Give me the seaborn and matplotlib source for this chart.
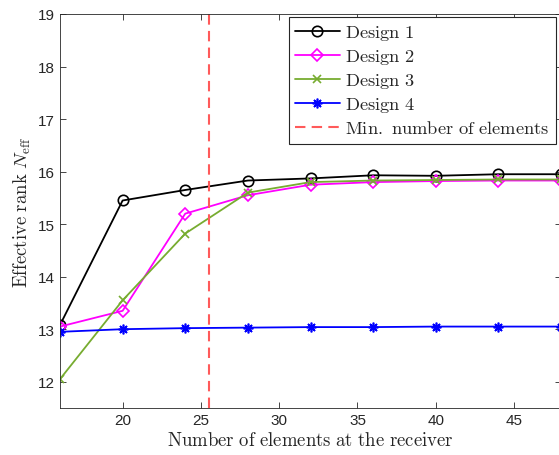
import numpy as np
import pandas as pd
import matplotlib
matplotlib.use("Agg")
import matplotlib.pyplot as plt
import seaborn as sns

# Data
n_elements = [16, 20, 24, 28, 32, 36, 40, 44, 48]
design1 = [13.08, 15.45, 15.65, 15.83, 15.87, 15.93, 15.92, 15.95, 15.95]
design2 = [13.05, 13.35, 15.20, 15.55, 15.75, 15.80, 15.82, 15.83, 15.83]
design3 = [12.05, 13.55, 14.82, 15.60, 15.80, 15.83, 15.84, 15.85, 15.85]
design4 = [12.95, 13.00, 13.02, 13.03, 13.04, 13.04, 13.05, 13.05, 13.05]
min_elements = 25.5
x_ticks = [20, 25, 30, 35, 40, 45]
y_ticks = [12, 13, 14, 15, 16, 17, 18, 19]

sns.set_style("ticks")
plt.rcParams["font.family"] = ["Liberation Sans", "DejaVu Sans"]
plt.rcParams["mathtext.fontset"] = "cm"
plt.rcParams["xtick.direction"] = "in"
plt.rcParams["ytick.direction"] = "in"

fig = plt.figure(figsize=(5.59, 4.56), dpi=100)
ax = fig.add_axes([60 / 559, 47 / 456, 501 / 559, 394 / 456])

series = [
    ("Design 1", design1, "black", "o", 7.5),
    ("Design 2", design2, "#FF00FF", "D", 6),
    ("Design 3", design3, "#77AC30", "x", 6),
    ("Design 4", design4, "#0000FF", (8, 2, 0), 7),
]
for name, vals, col, mk, ms in series:
    sns.lineplot(x=n_elements, y=vals, ax=ax, color=col, marker=mk,
                 markersize=ms, markerfacecolor="none", markeredgecolor=col,
                 markeredgewidth=1.2, linewidth=1.3, label=name)

ax.axvline(min_elements, color="#FF5A5A", linestyle=(0, (5, 3)), linewidth=1.5,
           label="Min. number of elements")

ax.set_xlim(16, 48)
ax.set_ylim(11.5, 19)
ax.set_xticks(x_ticks)
ax.set_yticks(y_ticks)
ax.tick_params(axis="both", labelsize=11, colors="#262626", length=4,
               top=True, right=True, width=0.6)
for s in ax.spines.values():
    s.set_color("#262626")
    s.set_linewidth(0.6)

ax.set_xlabel(r"$\mathrm{Number\ of\ elements\ at\ the\ receiver}$", fontsize=13.5,
              labelpad=3)
ax.set_ylabel(r"$\mathrm{Effective\ rank}\ N_{\mathrm{eff}}$", fontsize=13.5,
              labelpad=4)

leg = ax.legend(loc="upper right", bbox_to_anchor=(556 / 559, 1 - 18 / 456),
                bbox_transform=fig.transFigure, fancybox=False, framealpha=1,
                edgecolor="#262626", prop={"family": "serif", "size": 13.3},
                handlelength=2.4, borderpad=0.35, labelspacing=0.27,
                handletextpad=0.3, borderaxespad=0)
for t in leg.get_texts():
    t.set_text("$\\mathrm{" + t.get_text().replace(" ", "\\ ") + "}$")
leg.get_frame().set_linewidth(0.8)

fig.savefig("out.png", dpi=100)
